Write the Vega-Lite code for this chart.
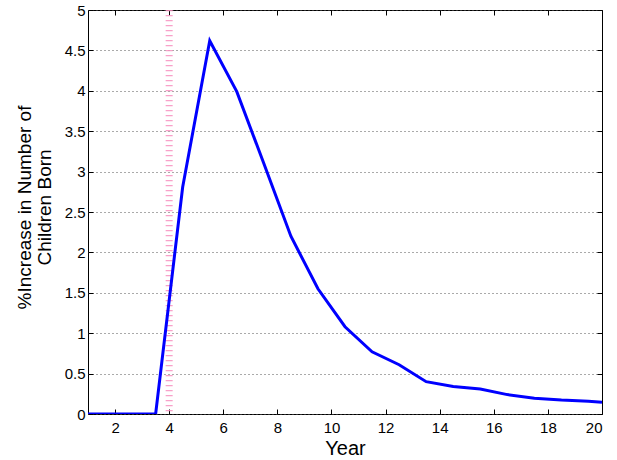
{
  "$schema": "https://vega.github.io/schema/vega-lite/v6.json",
  "width": 514,
  "height": 404,
  "autosize": {"type": "none"},
  "padding": {"left": 88, "top": 10, "right": 15, "bottom": 46},
  "background": "white",
  "config": {
    "view": {"stroke": "black", "strokeWidth": 1},
    "font": "Liberation Sans",
    "axis": {
      "labelFont": "Liberation Sans",
      "titleFont": "Liberation Sans",
      "labelColor": "black",
      "titleColor": "black",
      "labelFontSize": 15,
      "titleFontSize": 20,
      "titleFontWeight": "normal",
      "domainColor": "black",
      "tickColor": "black",
      "tickSize": -5
    }
  },
  "datasets": {
    "series": [
      {"year": 1, "pct": 0},
      {"year": 1.5, "pct": 0},
      {"year": 2.5, "pct": 0},
      {"year": 3.5, "pct": 0},
      {"year": 4.5, "pct": 2.81},
      {"year": 5.5, "pct": 4.62},
      {"year": 6.5, "pct": 3.99},
      {"year": 7.5, "pct": 3.1},
      {"year": 8.5, "pct": 2.2},
      {"year": 9.5, "pct": 1.55},
      {"year": 10.5, "pct": 1.08},
      {"year": 11.5, "pct": 0.77},
      {"year": 12.5, "pct": 0.61},
      {"year": 13.5, "pct": 0.40},
      {"year": 14.5, "pct": 0.34},
      {"year": 15.5, "pct": 0.31},
      {"year": 16.5, "pct": 0.24},
      {"year": 17.5, "pct": 0.195},
      {"year": 18.5, "pct": 0.172},
      {"year": 19.5, "pct": 0.158},
      {"year": 20, "pct": 0.145}
    ],
    "marker": [{"year": 4}]
  },
  "layer": [
    {
      "data": {"name": "marker"},
      "mark": {"type": "rule", "color": "#f790c0", "strokeWidth": 7, "strokeDash": [1.2, 3.8], "opacity": 0.85},
      "encoding": {
        "x": {"field": "year", "type": "quantitative", "scale": {"domain": [1, 20], "nice": false, "zero": false},
          "axis": {"orient": "top", "labels": false, "title": null, "grid": false, "values": [2,4,6,8,10,12,14,16,18,20], "domain": false}}
      }
    },
    {
      "data": {"name": "series"},
      "mark": {"type": "line", "color": "#0000ff", "strokeWidth": 3, "clip": true},
      "encoding": {
        "x": {"field": "year", "type": "quantitative", "scale": {"domain": [1, 20], "nice": false, "zero": false},
          "axis": {"orient": "bottom", "title": "Year", "grid": false, "values": [2,4,6,8,10,12,14,16,18,20], "labelPadding": 11, "titleY": 40, "titleBaseline": "alphabetic", "domain": false}},
        "y": {"field": "pct", "type": "quantitative", "scale": {"domain": [0, 5], "nice": false},
          "axis": {"orient": "left", "title": ["%Increase in Number of", "Children Born"], "format": "~g", "values": [0,0.5,1,1.5,2,2.5,3,3.5,4,4.5,5], "labelPadding": 8, "grid": true, "gridColor": "#555", "gridDash": [1, 3], "gridWidth": 1, "domain": false, "titleX": -58, "titleY": 197, "titleFontSize": 19, "titleBaseline": "alphabetic", "titleLineHeight": 20}}
      }
    },
    {
      "data": {"name": "marker"},
      "mark": {"type": "point", "opacity": 0},
      "encoding": {
        "y": {"datum": 0, "type": "quantitative", "scale": {"domain": [0, 5], "nice": false},
          "axis": {"orient": "right", "labels": false, "title": null, "grid": false, "values": [0,0.5,1,1.5,2,2.5,3,3.5,4,4.5,5], "domain": false}}
      }
    }
  ],
  "resolve": {"axis": {"x": "independent", "y": "independent"}}
}
